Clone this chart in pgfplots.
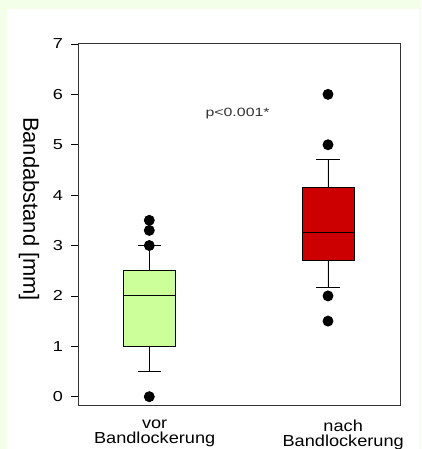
\documentclass[border=0pt]{standalone}
\usepackage{pgfplots}
\pgfplotsset{compat=1.18}
\usepgfplotslibrary{statistics}
\usepackage{fontspec}
\setmainfont{Liberation Sans}
\definecolor{bgg}{RGB}{244,255,234}
\definecolor{boxg}{RGB}{204,255,153}
\definecolor{boxr}{RGB}{204,0,0}
\begin{document}
\begin{tikzpicture}[x=1bp,y=1bp]
\fill[bgg] (0,0) rectangle (421,449);
\fill[white] (7,0) rectangle (419,440);
\useasboundingbox (0,0) rectangle (421,449);
\begin{axis}[
  at={(78bp,43bp)}, anchor=south west,
  scale only axis, width=322bp, height=362bp,
  xmin=0.601, xmax=2.403, ymin=-0.185, ymax=7,
  ytick={0,1,2,3,4,5,6,7},
  tick align=outside, ytick pos=left, major tick length=7bp,
  xtick={1.03,2.085},
  xticklabels={{vor\\Bandlockerung},{nach\\Bandlockerung}},
  xtick style={draw=none},
  xticklabel style={align=center, font=\fontsize{16}{14.7}\selectfont, xscale=1.14, yshift=-3.5bp},
  yticklabel style={font=\fontsize{14.5}{16}\selectfont, xscale=1.25, xshift=-3bp},
  /pgf/number format/assume math mode=true,
  ylabel={Bandabstand [mm]},
  ylabel style={at={(axis description cs:-0.152,0.544)}, rotate=180, anchor=center, font=\fontsize{22}{26}\selectfont},
  axis line style={line width=1bp, draw=black!80},
  every tick/.style={black, line width=0.8bp},
  boxplot/draw direction=y,
  clip=false,
]
\addplot[draw=black, line width=0.9bp, fill=boxg, mark=*, mark size=5,
  mark options={fill=black, draw=black},
  boxplot prepared={draw position=1, draw direction=y, lower whisker=0.5, lower quartile=1,
    median=2, upper quartile=2.5, upper whisker=3,
    box extend=0.291, whisker extend=0.132}]
  table[row sep=\\, y index=0] {v\\0\\3\\3.3\\3.5\\};
\addplot[draw=black, line width=0.9bp, fill=boxr, mark=*, mark size=5,
  mark options={fill=black, draw=black},
  boxplot prepared={draw position=2, draw direction=y, lower whisker=2.17, lower quartile=2.71,
    median=3.26, upper quartile=4.15, upper whisker=4.7,
    box extend=0.291, whisker extend=0.132}]
  table[row sep=\\, y index=0] {v\\1.5\\2\\5\\6\\};
\node[font=\fontsize{12}{14}\selectfont, xscale=1.33, text=black!80] at (axis cs:1.494,5.61) {p<0.001*};
\end{axis}
\end{tikzpicture}
\end{document}
